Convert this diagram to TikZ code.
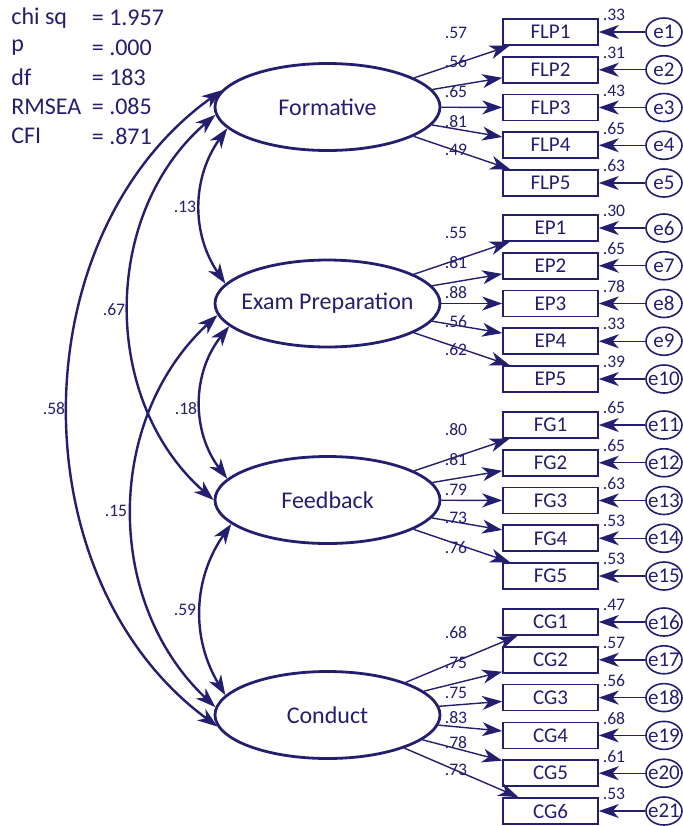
\documentclass[tikz,border=0pt]{standalone}
\usepackage{fontspec}
\setmainfont{Carlito}
\usepackage{tikz}
\usetikzlibrary{arrows.meta, shapes.geometric}
\definecolor{amosblue}{RGB}{35,31,110}

\begin{document}
\begin{tikzpicture}[
      x=0.5pt, y=-0.5pt,
      every node/.style={text=amosblue},
      latent/.style={draw=amosblue, ellipse, line width=1.4pt, minimum width=112.5pt, minimum height=43.5pt, inner sep=0pt, font=\fontsize{12}{14}\selectfont},
      ind/.style={draw=amosblue, line width=0.8pt, minimum width=47.5pt, minimum height=13pt, inner sep=0pt, font=\fontsize{10.5}{12}\selectfont},
      err/.style={draw=amosblue, ellipse, line width=0.8pt, minimum width=18pt, minimum height=14pt, inner sep=0pt, font=\fontsize{10.5}{12}\selectfont},
      num/.style={inner sep=0pt, font=\fontsize{8.8}{10}\selectfont},
      stat/.style={anchor=west, inner sep=0pt, font=\fontsize{12}{14}\selectfont},
      arr/.style={-{Stealth[length=10pt, width=7pt, inset=3pt]}, draw=amosblue, line width=0.7pt},
      cov/.style={{Stealth[length=10pt, width=7pt, inset=3pt]}-{Stealth[length=10pt, width=7pt, inset=3pt]}, draw=amosblue, line width=1.2pt}
    ]
    \useasboundingbox (0,0) rectangle (683,826);

    % fit indices
    \foreach \k/\v [count=\i] in {chi sq/1.957, p/.000, df/183, RMSEA/.085, CFI/.871} {
      \pgfmathsetmacro\y{18+29.5*(\i-1)}
      \node[stat] (key\i) at (11,\y) {\k};
      \node[stat] (val\i) at (91.5,\y) {= \v};
    }

    \node[latent] (form) at (327.5,107) {Formative};
    \node[latent] (exam) at (327.5,303.5) {\makebox[0pt]{Exam Preparation}};
    \node[latent] (feed) at (327.5,500) {Feedback};
    \node[latent] (cond) at (327.5,715) {Conduct};

    % Formative items
    \foreach \i/\ly/\ld/\vr in {1/33/.57/.33, 2/62/.56/.31, 3/92/.65/.43, 4/122/.81/.65, 5/150/.49/.63} {
      \pgfmathsetmacro\y{32+37.75*(\i-1)}
      \node[ind] (flp\i) at (550.5,\y) {FLP\i};
      \node[err] (e\i) at (664,\y) {\makebox[0pt]{e\i}};
      \draw[arr] (form) -- (flp\i);
      \draw[arr] (e\i) -- (flp\i);
      \node[num] (lflp\i) at (456,\ly) {\ld};
      \node[num] (vflp\i) at (614,\y-17) {\vr};
    }

    % Exam Preparation items
    \foreach \i/\ly/\ld/\vr in {1/233/.55/.30, 2/263/.81/.65, 3/293/.88/.78, 4/322/.56/.33, 5/350/.62/.39} {
      \pgfmathsetmacro\y{228+37.75*(\i-1)}
      \pgfmathtruncatemacro\j{\i+5}
      \node[ind] (ep\i) at (550.5,\y) {EP\i};
      \node[err] (e\j) at (664,\y) {\makebox[0pt]{e\j}};
      \draw[arr] (exam) -- (ep\i);
      \draw[arr] (e\j) -- (ep\i);
      \node[num] (lep\i) at (456,\ly) {\ld};
      \node[num] (vep\i) at (614,\y-17) {\vr};
    }

    % Feedback items
    \foreach \i/\ly/\ld/\vr in {1/430/.80/.65, 2/460/.81/.65, 3/490/.79/.63, 4/518/.73/.53, 5/548/.76/.53} {
      \pgfmathsetmacro\y{425+37.75*(\i-1)}
      \pgfmathtruncatemacro\j{\i+10}
      \node[ind] (fg\i) at (550.5,\y) {FG\i};
      \node[err] (e\j) at (664,\y) {\makebox[0pt]{e\j}};
      \draw[arr] (feed) -- (fg\i);
      \draw[arr] (e\j) -- (fg\i);
      \node[num] (lfg\i) at (456,\ly) {\ld};
      \node[num] (vfg\i) at (614,\y-17) {\vr};
    }

    % Conduct items
    \foreach \i/\ly/\ld/\vr in {1/633/.68/.47, 2/663/.75/.57, 3/693/.75/.56, 4/718/.83/.68, 5/743/.78/.61, 6/770/.73/.53} {
      \pgfmathsetmacro\y{622+37.8*(\i-1)}
      \pgfmathtruncatemacro\j{\i+15}
      \node[ind] (cg\i) at (550.5,\y) {CG\i};
      \node[err] (e\j) at (664,\y) {\makebox[0pt]{e\j}};
      \draw[arr] (cond) -- (cg\i);
      \draw[arr] (e\j) -- (cg\i);
      \node[num] (lcg\i) at (456,\ly) {\ld};
      \node[num] (vcg\i) at (614,\y-17) {\vr};
    }

    % covariances
    \draw[cov] (form.192) to[bend right=35] (exam.169);
    \draw[cov] (exam.193) to[bend right=38] (feed.168);
    \draw[cov] (feed.194) to[bend right=33] (cond.169);
    \draw[cov] (form.184) to[bend right=49] (feed.180);
    \draw[cov] (exam.186) to[bend right=47] (cond.176);
    \draw[cov] (form.171) to[bend right=54] (cond.186);

    \node[num] (c13) at (185,207) {.13};
    \node[num] (c18) at (186,409) {.18};
    \node[num] (c59) at (185,610) {.59};
    \node[num] (c67) at (114,310) {.67};
    \node[num] (c15) at (116,511) {.15};
    \node[num] (c58) at (54,409) {.58};
  \end{tikzpicture}
\end{document}
